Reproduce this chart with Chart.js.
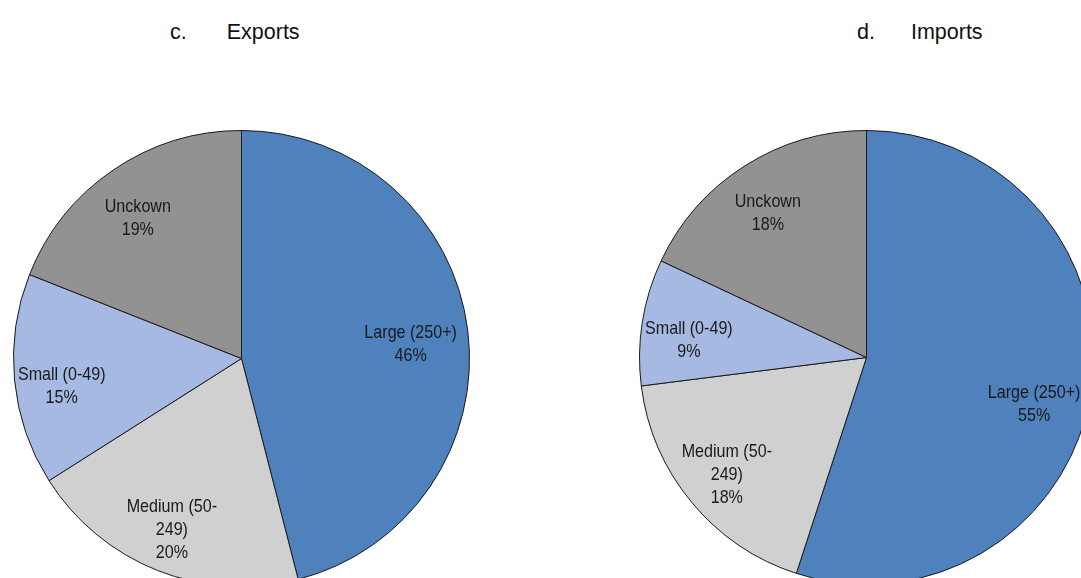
<!DOCTYPE html>
<html>
<head>
<meta charset="utf-8">
<script src="https://cdn.jsdelivr.net/npm/chart.js@4.4.1/dist/chart.umd.min.js"></script>
<style>
  html, body { margin: 0; padding: 0; background: #fff; }
  body { width: 1081px; height: 578px; overflow: hidden; position: relative; font-family: "Liberation Sans", Arial, sans-serif; }
  .title { position: absolute; top: 20px; font-size: 21.5px; color: #111; white-space: pre; }
  .title span { display: inline-block; }
  .pie { position: absolute; }
</style>
</head>
<body>
<div class="title" style="left:170px">c.<span style="width:40px"></span>Exports</div>
<div class="title" style="left:857px">d.<span style="width:36px"></span>Imports</div>
<div class="pie" style="left:13px;top:130px;width:457px;height:457px"><canvas id="exportsChart"></canvas></div>
<div class="pie" style="left:639px;top:130px;width:455px;height:455px"><canvas id="importsChart"></canvas></div>
<script>
// категории по размеру фирм, по часовой стрелке от 12 часов
const sizeLabels = [["Large (250+)"], ["Medium (50-", "249)"], ["Small (0-49)"], ["Unckown"]];
const exportsShare = [46, 20, 15, 19];
const importsShare = [55, 18, 9, 18];
const sliceColors = ["#4F81BD", "#D0D0D0", "#A6B9E3", "#929292"];

// подписи внутри секторов: название + процент (шрифт чуть сжат по ширине)
const sliceLabels = {
  id: "sliceLabels",
  afterDatasetsDraw(chart, args, opts) {
    const ctx = chart.ctx;
    const meta = chart.getDatasetMeta(0);
    const values = chart.data.datasets[0].data;
    const nudge = opts.nudge || [];
    const sx = 0.87;
    const lh = 23;
    ctx.save();
    ctx.font = "18.5px 'Liberation Sans', Arial, sans-serif";
    ctx.fillStyle = "#1a1a1a";
    ctx.textAlign = "center";
    ctx.textBaseline = "middle";
    meta.data.forEach((arc, i) => {
      const p = arc.getProps(["x", "y", "startAngle", "endAngle", "outerRadius"], true);
      const mid = (p.startAngle + p.endAngle) / 2;
      const r = p.outerRadius * opts.factor;
      const cx = p.x + Math.cos(mid) * r + opts.dx;
      const cy = p.y + Math.sin(mid) * r + opts.dy + (nudge[i] || 0);
      const lines = sizeLabels[i].concat([values[i] + "%"]);
      const top = cy - (lines.length - 1) * lh / 2;
      lines.forEach((t, k) => {
        ctx.save();
        ctx.translate(cx, top + k * lh);
        ctx.scale(sx, 1);
        ctx.fillText(t, 0, 0);
        ctx.restore();
      });
    });
    ctx.restore();
  }
};

function makePie(id, values, nudge) {
  return new Chart(document.getElementById(id), {
    type: "pie",
    data: {
      labels: sizeLabels.map(l => l.join(" ")),
      datasets: [{
        data: values,
        backgroundColor: sliceColors,
        borderColor: "#1a1a1a",
        borderWidth: 1
      }]
    },
    options: {
      responsive: true,
      maintainAspectRatio: false,
      animation: false,
      layout: { padding: 0 },
      plugins: {
        legend: { display: false },
        tooltip: { enabled: false },
        sliceLabels: { factor: 0.77, dx: -5, dy: 8, nudge: nudge }
      }
    },
    plugins: [sliceLabels]
  });
}

makePie("exportsChart", exportsShare, [0, 0, 3, -3]);
makePie("importsChart", importsShare, [12, -2, 2, -5]);
</script>
</body>
</html>
